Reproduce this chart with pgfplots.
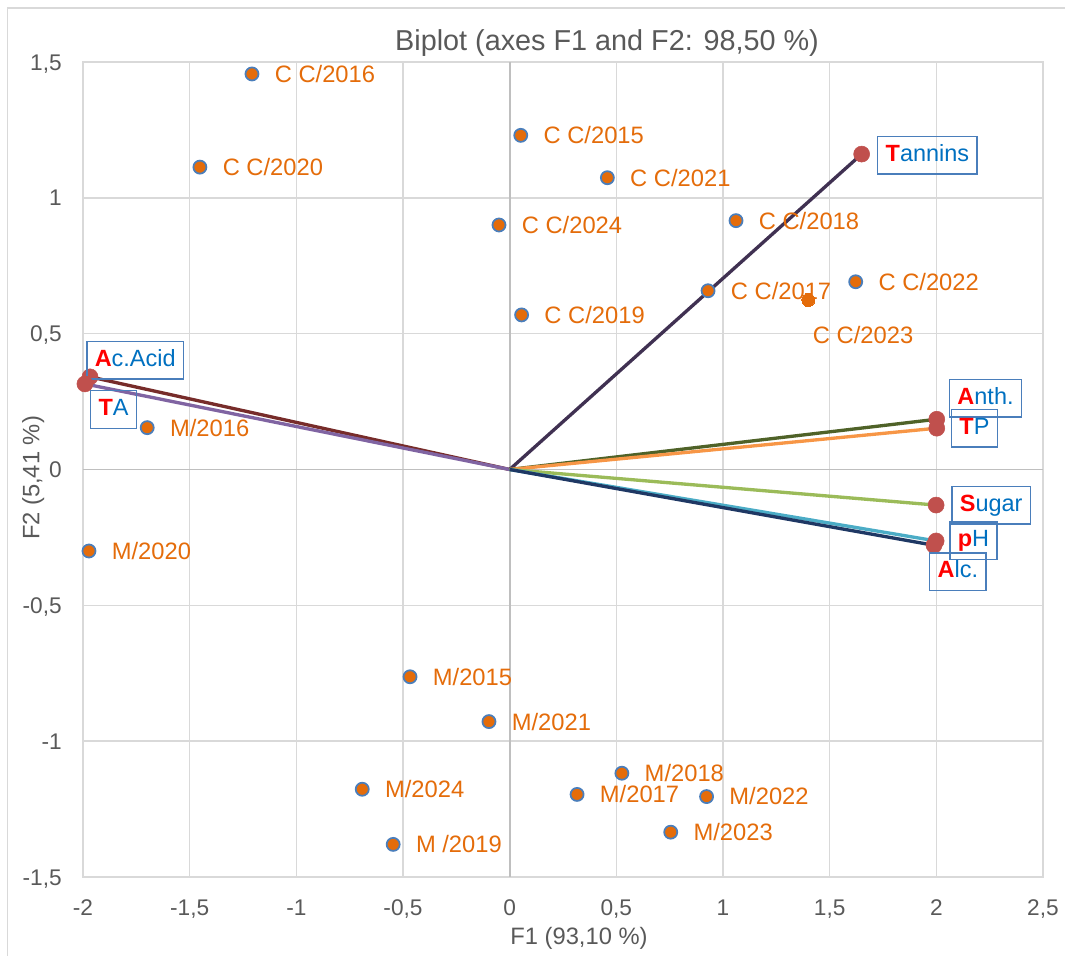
\documentclass[border=0pt]{standalone}
\usepackage{fontspec}
\setmainfont{Liberation Sans}
\usepackage{pgfplots}
\pgfplotsset{compat=1.18}
\definecolor{gridgray}{HTML}{D9D9D9}
\definecolor{zerogray}{HTML}{BFBFBF}
\definecolor{txtgray}{HTML}{595959}
\definecolor{obsorange}{HTML}{E46C0A}
\definecolor{obsblue}{HTML}{4A7EBB}
\definecolor{varred}{HTML}{C0504D}
\definecolor{lblblue}{HTML}{0070C0}
\definecolor{boxblue}{HTML}{4A7EBB}
\definecolor{cTannins}{HTML}{403152}
\definecolor{cAcid}{HTML}{772C2A}
\definecolor{cTA}{HTML}{8064A2}
\definecolor{cAnth}{HTML}{4F6228}
\definecolor{cTP}{HTML}{F79646}
\definecolor{cSugar}{HTML}{9BBB59}
\definecolor{cpH}{HTML}{4BACC6}
\definecolor{cAlc}{HTML}{1F3864}
\newcommand{\R}[1]{\textcolor{red}{\textbf{#1}}}
\tikzset{
  obslabel/.style={anchor=base west, inner sep=0pt, xshift=16.5pt, yshift=-6.3pt,
    font=\fontsize{17.8}{20}\selectfont, text=obsorange},
  varbox/.style={draw=boxblue, line width=1.1pt, text=lblblue,
    font=\fontsize{17.6}{20}\selectfont, inner xsep=6pt, inner ysep=6pt,
    text height=12.6pt, text depth=3.6pt},
}
\pgfplotsset{
  vec/.style={line width=2.5pt, mark=none},
  vend/.style={only marks, mark=*, mark size=6pt, color=varred,
    point meta=explicit symbolic, nodes near coords={\pgfplotspointmeta}},
}
\begin{document}
\begin{tikzpicture}
\useasboundingbox (-62.25pt,-59.25pt) rectangle (736.5pt,657.75pt);
\draw[gridgray, line width=1.1pt] (-56.8pt,-60pt) -- (-56.8pt,651.75pt) -- (740pt,651.75pt);
\begin{axis}[
  at={(0,0)}, anchor=south west,
  scale only axis, width=720pt, height=611.25pt,
  xmin=-2, xmax=2.5, ymin=-1.5, ymax=1.5,
  xtick={-2,-1.5,-1,-0.5,0,0.5,1,1.5,2,2.5},
  ytick={-1.5,-1,-0.5,0,0.5,1,1.5},
  grid=major, grid style={gridgray, line width=1.1pt},
  axis line style={gridgray, line width=1.1pt},
  extra x ticks={0}, extra y ticks={0},
  extra x tick labels={}, extra y tick labels={},
  extra tick style={grid style={zerogray, line width=1.3pt}},
  major tick length=0pt,
  /pgf/number format/.cd, use comma, assume math mode=true, 1000 sep={},
  /pgfplots/.cd,
  ticklabel style={font=\fontsize{17}{20}\selectfont, text=txtgray, inner sep=0pt},
  xticklabel style={anchor=base, yshift=-29.25pt},
  yticklabel style={anchor=base east, xshift=-15.75pt, yshift=-6.1pt},
  clip=false,
]
% vectors
\addplot[vec, cAcid] coordinates {(0,0) (-1.967,0.341)};
\addplot[vec, cTA] coordinates {(0,0) (-1.991,0.315)};
\addplot[vec, cTannins] coordinates {(0,0) (1.650,1.161)};
\addplot[vec, cAnth] coordinates {(0,0) (2.002,0.185)};
\addplot[vec, cTP] coordinates {(0,0) (2.002,0.152)};
\addplot[vec, cSugar] coordinates {(0,0) (1.999,-0.131)};
\addplot[vec, cpH] coordinates {(0,0) (1.999,-0.263)};
\addplot[vec, cAlc] coordinates {(0,0) (1.989,-0.279)};
% observations
\addplot[only marks, mark=*, mark size=4.9pt,
  mark options={fill=obsorange, draw=obsblue, line width=1.3pt},
  point meta=explicit symbolic, nodes near coords={\pgfplotspointmeta},
  every node near coord/.append style={obslabel}]
coordinates {
(-1.208,1.456) [C C/2016]
(-1.452,1.113) [C C/2020]
(0.052,1.230) [C C/2015]
(0.458,1.074) [C C/2021]
(-0.050,0.900) [C C/2024]
(1.061,0.916) [C C/2018]
(1.622,0.691) [C C/2022]
(0.930,0.658) [C C/2017]
(0.056,0.569) [C C/2019]
(-1.699,0.154) [M/2016]
(-1.972,-0.300) [M/2020]
(-0.467,-0.763) [M/2015]
(-0.097,-0.928) [M/2021]
(0.526,-1.118) [M/2018]
(-0.691,-1.177) [M/2024]
(0.316,-1.196) [M/2017]
(0.923,-1.204) [M/2022]
(0.755,-1.335) [M/2023]
(-0.546,-1.380) [M /2019]
};
\addplot[only marks, mark=*, mark size=4.9pt,
  mark options={fill=obsorange, draw=obsorange, line width=0pt},
  point meta=explicit symbolic, nodes near coords={\pgfplotspointmeta},
  every node near coord/.append style={obslabel, xshift=-13pt, yshift=-26.3pt}]
coordinates {(1.400,0.624) [C C/2023]};
% vector end points and labels
\addplot[vend, every node near coord/.append style={varbox, anchor=south west, xshift=-3pt, yshift=-2.25pt}]
coordinates {(-1.967,0.341) [{\R{A}c.Acid}]};
\addplot[vend, every node near coord/.append style={varbox, anchor=north west, xshift=3.75pt, yshift=-4.5pt}]
coordinates {(-1.991,0.315) [{\R{T}A}]};
\addplot[vend, every node near coord/.append style={varbox, anchor=west, xshift=11.5pt, yshift=-1pt}]
coordinates {(1.650,1.161) [{\R{T}annins}]};
\addplot[vend, every node near coord/.append style={varbox, anchor=south west, xshift=9pt, yshift=1pt}]
coordinates {(2.002,0.185) [{\R{A}nth.}]};
\addplot[vend, every node near coord/.append style={varbox, anchor=west, xshift=10.5pt}]
coordinates {(2.002,0.152) [{\R{T}P}]};
\addplot[vend, every node near coord/.append style={varbox, anchor=west, xshift=11.25pt}]
coordinates {(1.999,-0.131) [{\R{S}ugar}]};
\addplot[vend, every node near coord/.append style={varbox, anchor=west, xshift=9.75pt}]
coordinates {(1.999,-0.263) [{\R{p}H}]};
\addplot[vend, every node near coord/.append style={varbox, anchor=north west, xshift=-3.75pt, yshift=-5.25pt}]
coordinates {(1.989,-0.279) [{\R{A}lc.}]};
\end{axis}
\node[anchor=base, font=\fontsize{21.6}{24}\selectfont, text=txtgray] at (393pt,620pt) {Biplot (axes F1 and F2: 98,50 \%)};
\node[anchor=base, font=\fontsize{17.8}{20}\selectfont, text=txtgray] at (372pt,-51pt) {F1 (93,10 \%)};
\node[anchor=base, rotate=90, font=\fontsize{17.8}{20}\selectfont, text=txtgray] at (-32.8pt,299.25pt) {F2 (5,41 \%)};
\end{tikzpicture}
\end{document}
